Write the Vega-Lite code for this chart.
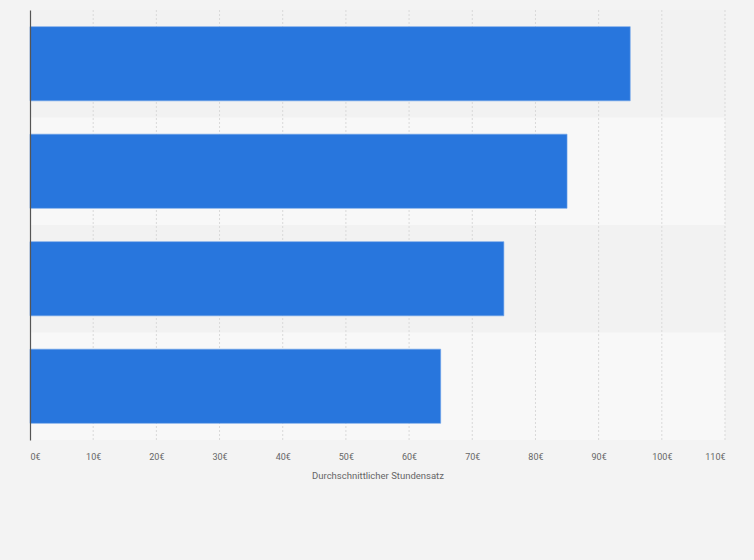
{
  "$schema": "https://vega.github.io/schema/vega-lite/v6.json",
  "width": 695,
  "height": 430,
  "autosize": {"type": "none"},
  "padding": {"left": 30, "top": 10, "right": 29, "bottom": 120},
  "background": "#f3f3f3",
  "config": {"view": {"stroke": null}, "font": "Roboto"},
  "data": {
    "values": [
      {"kategorie": "Kategorie 1", "stundensatz": 95, "band": "dark"},
      {"kategorie": "Kategorie 2", "stundensatz": 85, "band": "light"},
      {"kategorie": "Kategorie 3", "stundensatz": 75, "band": "dark"},
      {"kategorie": "Kategorie 4", "stundensatz": 65, "band": "light"}
    ]
  },
  "layer": [
    {
      "mark": {"type": "rect"},
      "encoding": {
        "y": {"field": "kategorie", "type": "nominal", "sort": null, "scale": {"paddingInner": 0, "paddingOuter": 0}, "axis": null},
        "x": {"datum": 0, "type": "quantitative", "scale": {"domain": [0, 110]}},
        "x2": {"datum": 110},
        "color": {"field": "band", "type": "nominal", "scale": {"domain": ["dark", "light"], "range": ["#f2f2f2", "#f8f8f8"]}, "legend": null}
      }
    },
    {
      "data": {"values": [{"v": 10}, {"v": 20}, {"v": 30}, {"v": 40}, {"v": 50}, {"v": 60}, {"v": 70}, {"v": 80}, {"v": 90}, {"v": 100}, {"v": 110}]},
      "mark": {"type": "rule", "color": "#d9d9d9", "strokeDash": [2, 2], "strokeWidth": 1},
      "encoding": {
        "x": {"field": "v", "type": "quantitative"}
      }
    },
    {
      "mark": {"type": "bar", "color": "#2876dd", "stroke": "#6ea3ea", "strokeWidth": 0.6},
      "encoding": {
        "y": {
          "field": "kategorie", "type": "nominal", "sort": null,
          "scale": {"paddingInner": 0.31, "paddingOuter": 0.155},
          "axis": {"labels": false, "ticks": false, "title": null, "domain": true, "domainColor": "#555555", "domainWidth": 1.2, "zindex": 1}
        },
        "x": {
          "field": "stundensatz", "type": "quantitative",
          "scale": {"domain": [0, 110], "nice": false},
          "title": "Durchschnittlicher Stundensatz",
          "axis": {
            "values": [0, 10, 20, 30, 40, 50, 60, 70, 80, 90, 100, 110],
            "labelExpr": "datum.value + '€'",
            "labelFontSize": 9,
            "labelColor": "#666666",
            "labelPadding": 12,
            "ticks": false,
            "domain": false,
            "grid": false,
            "titleFontSize": 9.5,
            "titleFontWeight": "normal",
            "titleColor": "#666666",
            "titlePadding": 9
          }
        }
      }
    }
  ],
  "resolve": {"scale": {"y": "independent"}}
}
